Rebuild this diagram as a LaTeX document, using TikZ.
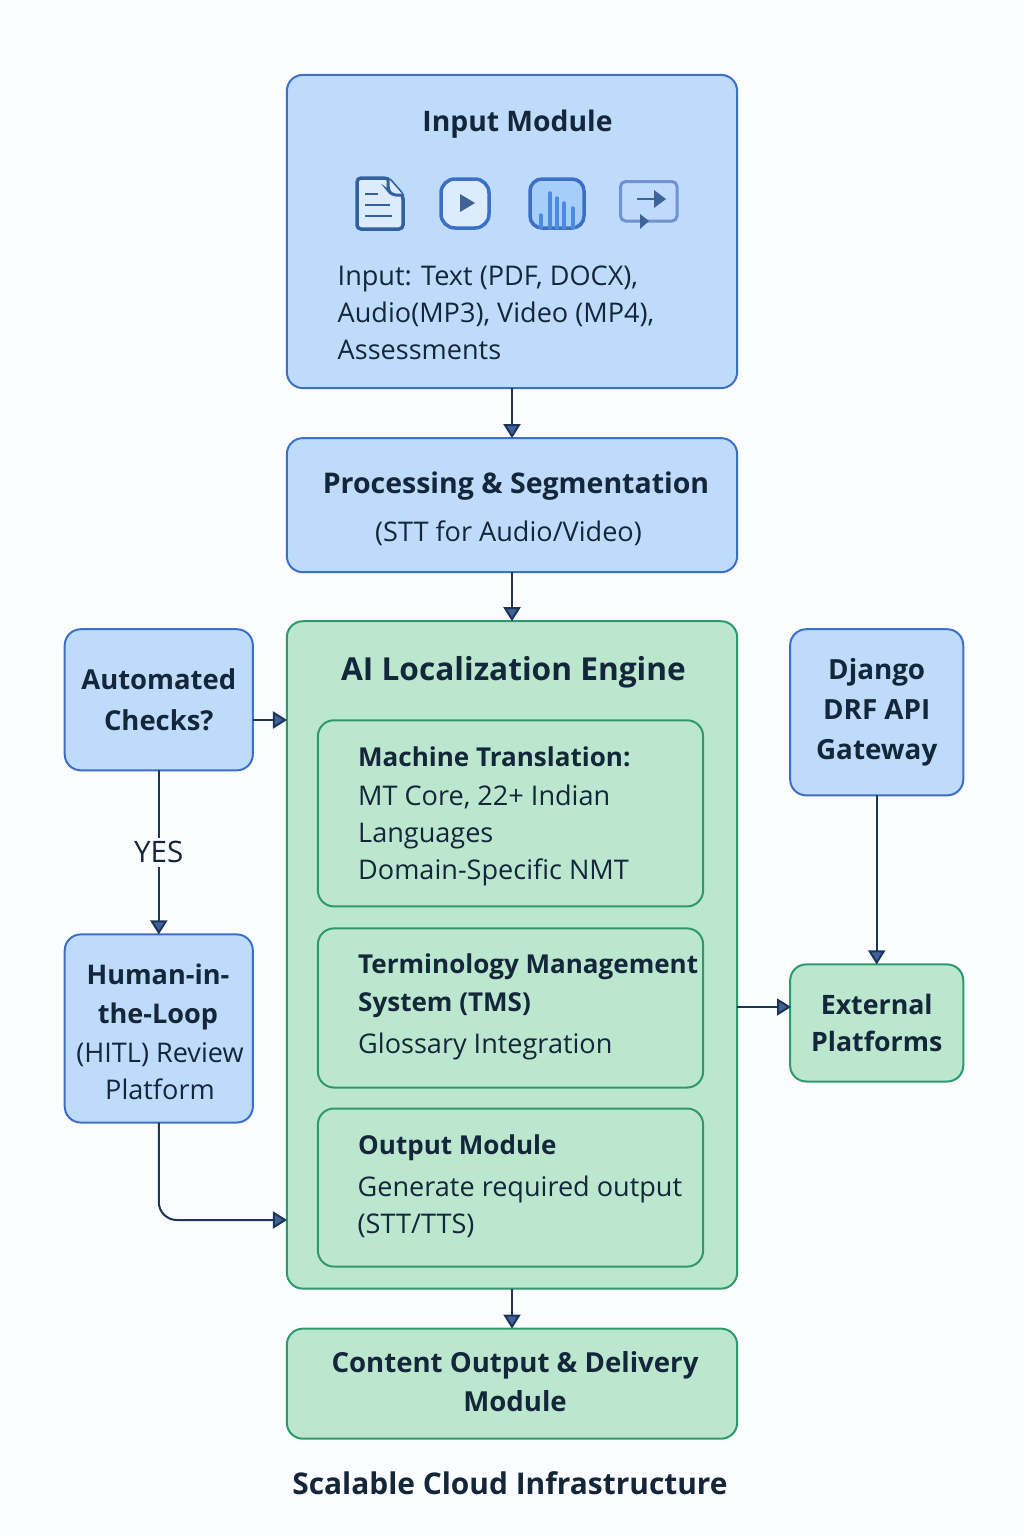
\documentclass[tikz,border=0pt]{standalone}
\usepackage{fontspec}
\setmainfont{Open Sans}
\usepackage{xcolor}
\usetikzlibrary{arrows.meta, positioning, calc}

\definecolor{pagebg}{HTML}{FAFCFE}
\definecolor{bluefill}{HTML}{BFDBFB}
\definecolor{blueline}{HTML}{3B70C6}
\definecolor{greenfill}{HTML}{BBE7CF}
\definecolor{greenline}{HTML}{2E9A6C}
\definecolor{arrowline}{HTML}{1E3558}
\definecolor{inktext}{HTML}{14263A}
\definecolor{iconline}{HTML}{33609F}
\definecolor{iconlight}{HTML}{DCEBFD}
\definecolor{iconbar}{HTML}{4A8BDF}
\definecolor{iconbarfill}{HTML}{A5CEFB}
\definecolor{iconscreen}{HTML}{6F92D0}
\definecolor{icontip}{HTML}{3F6299}

\begin{document}
\begin{tikzpicture}[
    x=0.01cm, y=-0.01cm,
    bluebox/.style={rectangle, draw=blueline, fill=bluefill, rounded corners=0.16cm, line width=0.02cm, inner sep=0pt, outer sep=0pt},
    greenbox/.style={rectangle, draw=greenline, fill=greenfill, rounded corners=0.16cm, line width=0.02cm, inner sep=0pt, outer sep=0pt},
    title/.style={text=inktext, font=\fontsize{8.1pt}{11.2pt}\selectfont\bfseries, align=center, inner sep=0pt},
    body/.style={text=inktext, font=\fontsize{7.7pt}{10.5pt}\selectfont, align=left, inner sep=0pt},
    link/.style={draw=arrowline, line width=0.02cm, -{Triangle[length=0.14cm, width=0.17cm, fill=icontip]}},
    iconbox/.style={line width=0.035cm, rounded corners=0.1cm},
    node distance=0.5cm
]
\fill[pagebg] (0,0) rectangle (1024,1536);
\useasboundingbox (0,0) rectangle (1024,1536);

% main column
\node[bluebox, minimum width=4.5cm, minimum height=3.13cm] (input) at (512,231.5) {};
\node[bluebox, minimum width=4.5cm, minimum height=1.34cm, below=of input] (process) {};
\node[greenbox, minimum width=4.5cm, minimum height=6.67cm, below=0.49cm of process] (engine) {};
\node[greenbox, minimum width=4.5cm, minimum height=1.1cm, below=0.4cm of engine] (delivery) {};

% boxes inside the engine
\node[greenbox, minimum width=3.85cm, minimum height=1.86cm, below=0.99cm of engine.north, xshift=-0.015cm] (mt) {};
\node[greenbox, minimum width=3.85cm, minimum height=1.59cm, below=0.22cm of mt] (tms) {};
\node[greenbox, minimum width=3.85cm, minimum height=1.58cm, below=0.21cm of tms] (output) {};

% side columns
\node[bluebox, minimum width=1.88cm, minimum height=1.41cm, below left=0.08cm and 0.34cm of engine.north west, title, font=\fontsize{7.8pt}{11.7pt}\selectfont\bfseries] (auto) {Automated\\Checks?};
\node[bluebox, minimum width=1.88cm, minimum height=1.88cm, below=1.64cm of auto] (hitl) {};
\node[bluebox, minimum width=1.73cm, minimum height=1.66cm, below right=0.08cm and 0.53cm of engine.north east, title, font=\fontsize{7.9pt}{11.4pt}\selectfont\bfseries] (django) {Django\\DRF API\\Gateway};
\node[greenbox, minimum width=1.73cm, minimum height=1.17cm, below=1.69cm of django, title, font=\fontsize{7.6pt}{10.4pt}\selectfont\bfseries] (external) {External\\Platforms};

% texts
\node[title, font=\fontsize{8.05pt}{11pt}\selectfont\bfseries] (inputtitle) at (517.5,124) {Input Module};
\node[body, anchor=north west] (inputtext) at (337,265) {Input: Text (PDF, DOCX),\\Audio(MP3), Video (MP4),\\Assessments};
\node[title] (processtitle) at (516,486) {Processing \& Segmentation};
\node[body] (processtext) at (508.5,533) {(STT for Audio/Video)};
\node[title, font=\fontsize{9pt}{12pt}\selectfont\bfseries] (enginetitle) at (513.5,672) {AI Localization Engine};
\node[title, anchor=north west, font=\fontsize{7.4pt}{10pt}\selectfont\bfseries] (mttitle) at (357.5,746) {Machine Translation:};
\node[body, anchor=north west] (mttext) at (357.5,784) {MT Core, 22+ Indian\\Languages\\Domain-Specific NMT};
\node[title, anchor=north west, align=left, font=\fontsize{7.4pt}{10.9pt}\selectfont\bfseries] (tmstitle) at (357.5,953) {Terminology Management\\System (TMS)};
\node[body, anchor=west] (tmstext) at (357.5,1046) {Glossary Integration};
\node[title, anchor=west, font=\fontsize{7.4pt}{10pt}\selectfont\bfseries] (outputtitle) at (357.5,1148) {Output Module};
\node[body, anchor=north west] (outputtext) at (357,1175) {Generate required output\\(STT/TTS)};
\node[title, font=\fontsize{7.7pt}{11pt}\selectfont\bfseries] (hitltitle) at (158,997) {Human-in-\\the-Loop};
\node[body, align=center] (hitltext) at (160,1071) {(HITL) Review\\Platform};
\node[title, font=\fontsize{7.85pt}{11pt}\selectfont\bfseries] at ([xshift=0.03cm, yshift=0.02cm]delivery) (deliverytext) {Content Output \& Delivery\\Module};
\node[title, font=\fontsize{8.5pt}{11pt}\selectfont\bfseries] (cloud) at (510,1483) {Scalable Cloud Infrastructure};

% icons
\draw[iconline, fill=iconlight, line width=0.035cm, rounded corners=0.04cm] (357,178) -- (388,178) -- (403,195) -- (403,229) -- (357,229) -- cycle;
\draw[iconline, fill=iconlight, line width=0.03cm, rounded corners=0.04cm] (388,178) -- (388,190) -- (392,195) -- (403,195);
\draw[iconline, line width=0.02cm] (365,194) -- (378,194) (365,205) -- (390,205) (365,216) -- (392,216);
\draw[blueline, fill=iconlight, iconbox, rounded corners=0.14cm] (441,179) rectangle (489,228);
\fill[icontip] (460,194) -- (475,203) -- (460,212) -- cycle;
\draw[blueline, fill=iconbarfill, iconbox, rounded corners=0.12cm] (530,179) rectangle (584,228);
\foreach \barx/\bartop in {541/215, 550/193, 557/198, 564/203, 573/208}
    \draw[iconbar, line width=0.035cm, line cap=round] (\barx,228) -- (\barx,\bartop);
\draw[iconscreen, iconbox, rounded corners=0.05cm, line width=0.03cm] (620.5,181.5) rectangle (677,221);
\draw[icontip, line width=0.02cm] (637,199) -- (655,199);
\fill[icontip] (654,190) -- (666,199) -- (654,208) -- cycle;
\fill[icontip] (640,214) -- (649,221) -- (640,229) -- cycle;

% connectors
\coordinate (enginein) at (287,720);
\coordinate (engineback) at (287,1220);
\coordinate (extin) at (791,1007);
\draw[link] (input) -- (process);
\draw[link] (process) -- (engine);
\draw[link] (engine) -- (delivery);
\draw[link] (auto.east |- enginein) -- (enginein);
\draw[link] (auto) -- node[fill=pagebg, text=inktext, font=\fontsize{8.4pt}{10pt}\selectfont, inner sep=0.04cm] {YES} (hitl);
\draw[link, rounded corners=0.18cm] (hitl) |- (engineback);
\draw[link] (engine.east |- extin) -- (extin);
\draw[link] (django) -- (external);
\end{tikzpicture}
\end{document}
